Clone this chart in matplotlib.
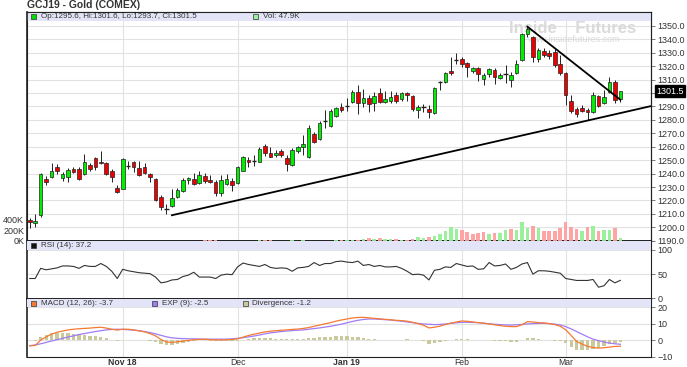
import matplotlib
matplotlib.use("Agg")
import matplotlib.pyplot as plt
from matplotlib.patches import Rectangle
from matplotlib.ticker import FuncFormatter
import numpy as np

plt.rcParams['font.family'] = ['Liberation Sans', 'DejaVu Sans']

# daily OHLC, GCJ19 (one entry per trading day)
opens = [1205.8, 1203.5, 1208.8, 1236.2, 1237.7, 1244.9, 1236.4, 1237.7, 1243.6, 1243.6,
         1239.4, 1246.4, 1251.8, 1248.9, 1248.1, 1241.9, 1229.4, 1228.7, 1245.6, 1248.6,
         1243.9, 1244.9, 1239.9, 1236.2, 1222.7, 1213.8, 1215.8, 1222.5, 1227.0, 1234.9,
         1235.9, 1232.9, 1238.3, 1235.4, 1234.1, 1225.9, 1232.4, 1234.6, 1232.9, 1242.3,
         1250.2, 1249.5, 1249.0, 1260.7, 1255.7, 1254.0, 1257.0, 1252.0, 1246.5, 1256.5,
         1259.7, 1252.7, 1269.6, 1265.9, 1279.3, 1275.6, 1283.0, 1289.5, 1290.2, 1293.1,
         1300.8, 1292.9, 1296.1, 1292.4, 1300.3, 1293.6, 1294.1, 1298.3, 1295.6, 1299.8,
         1297.8, 1287.4, 1289.9, 1288.2, 1284.9, 1308.5, 1308.0, 1316.5, 1324.7, 1325.2,
         1322.2, 1316.5, 1318.5, 1310.5, 1314.0, 1317.2, 1311.0, 1314.2, 1309.8, 1314.7,
         1324.7, 1344.0, 1341.6, 1325.2, 1331.6, 1329.6, 1330.9, 1321.7, 1314.7, 1294.1,
         1287.9, 1288.6, 1287.4, 1285.7, 1297.8, 1292.9, 1301.1, 1308.5, 1295.6]
highs = [1207.0, 1209.6, 1240.6, 1238.2, 1248.1, 1246.9, 1241.1, 1244.4, 1244.9, 1244.9,
         1254.3, 1248.1, 1252.5, 1256.8, 1248.9, 1243.1, 1231.2, 1251.3, 1249.4, 1249.4,
         1249.4, 1248.1, 1240.6, 1236.9, 1223.7, 1217.0, 1228.2, 1229.0, 1236.9, 1237.5,
         1240.3, 1241.6, 1240.8, 1239.1, 1235.4, 1239.1, 1240.0, 1236.6, 1245.8, 1253.2,
         1252.7, 1253.7, 1259.7, 1262.2, 1259.7, 1257.7, 1258.2, 1254.0, 1258.9, 1260.7,
         1268.9, 1276.3, 1271.3, 1279.5, 1287.5, 1288.0, 1289.7, 1292.4, 1296.0, 1302.3,
         1306.0, 1302.8, 1298.6, 1301.1, 1303.6, 1301.6, 1301.8, 1301.1, 1301.1, 1301.1,
         1298.6, 1291.4, 1291.9, 1291.1, 1304.8, 1309.3, 1316.0, 1327.1, 1330.1, 1327.1,
         1323.4, 1319.7, 1319.7, 1315.2, 1318.9, 1318.9, 1314.7, 1320.9, 1316.0, 1324.7,
         1345.0, 1349.5, 1342.6, 1333.4, 1333.4, 1331.9, 1332.6, 1328.4, 1315.9, 1298.6,
         1289.4, 1291.1, 1288.6, 1301.1, 1298.6, 1302.3, 1311.7, 1309.8, 1301.6]
lows = [1199.4, 1200.0, 1207.8, 1231.4, 1236.9, 1239.4, 1234.4, 1233.7, 1240.1, 1235.2,
        1239.0, 1241.9, 1242.6, 1246.9, 1238.9, 1233.7, 1225.2, 1228.2, 1243.6, 1241.1,
        1238.2, 1239.4, 1233.7, 1219.5, 1212.8, 1209.6, 1215.3, 1222.0, 1226.3, 1232.5,
        1231.6, 1232.4, 1232.9, 1232.9, 1223.0, 1223.0, 1231.6, 1227.4, 1232.4, 1241.6,
        1245.3, 1245.6, 1248.5, 1253.2, 1252.2, 1252.7, 1252.2, 1242.3, 1245.8, 1255.2,
        1254.0, 1251.5, 1262.7, 1265.2, 1273.8, 1275.1, 1282.5, 1286.2, 1287.0, 1292.4,
        1284.2, 1289.4, 1286.2, 1286.9, 1292.4, 1292.4, 1292.9, 1292.9, 1294.1, 1294.1,
        1286.9, 1281.2, 1285.7, 1281.2, 1284.2, 1302.3, 1307.3, 1313.5, 1321.7, 1319.7,
        1312.3, 1315.2, 1309.3, 1306.0, 1312.3, 1306.5, 1310.3, 1307.8, 1304.8, 1313.9,
        1324.2, 1342.0, 1323.4, 1323.4, 1326.9, 1325.7, 1319.7, 1313.5, 1291.1, 1285.4,
        1282.4, 1286.2, 1280.0, 1285.0, 1289.9, 1291.9, 1300.3, 1292.4, 1293.7]
closes = [1203.6, 1205.0, 1239.4, 1233.7, 1241.9, 1241.9, 1239.4, 1242.4, 1241.1, 1236.2,
          1248.9, 1243.1, 1244.9, 1248.1, 1239.4, 1237.7, 1226.5, 1250.6, 1245.6, 1245.1,
          1238.7, 1240.6, 1237.4, 1220.2, 1215.3, 1213.8, 1222.0, 1227.5, 1234.9, 1236.6,
          1232.4, 1239.1, 1234.6, 1234.1, 1225.4, 1235.4, 1235.9, 1231.6, 1245.3, 1252.2,
          1248.5, 1249.5, 1258.2, 1255.2, 1252.7, 1255.7, 1253.5, 1247.3, 1257.7, 1259.7,
          1262.2, 1273.8, 1263.9, 1277.5, 1279.3, 1287.0, 1288.7, 1287.5, 1290.2, 1300.8,
          1292.4, 1296.1, 1291.9, 1297.8, 1293.4, 1295.4, 1296.8, 1294.4, 1299.8, 1298.3,
          1288.4, 1289.4, 1289.9, 1285.7, 1303.6, 1308.5, 1314.7, 1314.7, 1324.7, 1321.7,
          1319.2, 1318.5, 1314.0, 1313.5, 1317.7, 1311.7, 1313.5, 1314.2, 1313.5, 1321.4,
          1344.0, 1347.5, 1326.7, 1332.1, 1328.4, 1327.6, 1320.9, 1315.2, 1298.6, 1286.9,
          1284.4, 1286.9, 1286.2, 1298.6, 1290.4, 1297.3, 1308.5, 1294.9, 1301.5]
volume_k = [3, 3, 4, 3, 2, 3, 2, 3, 2, 3, 2, 3, 2, 3, 2, 3, 4, 3, 2, 3,
            2, 3, 2, 4, 5, 4, 3, 3, 3, 2, 3, 4, 15, 14, 18, 5, 4, 4, 5, 6,
            4, 5, 15, 14, 12, 6, 6, 5, 14, 8, 12, 6, 6, 7, 8, 6, 12, 13, 13, 13,
            19, 31, 50, 38, 50, 38, 44, 38, 19, 19, 31, 69, 63, 82, 94, 132, 182, 270, 226, 208,
            164, 138, 145, 164, 138, 151, 151, 208, 226, 208, 352, 252, 283, 239, 189, 189, 195, 239, 352, 270,
            220, 189, 258, 283, 195, 208, 208, 239, 47.9]
rsi14 = [41, 41, 62, 59, 61, 63, 67, 67, 66, 62, 68, 66, 66, 72, 66, 56, 41, 60, 57, 55,
         53, 52, 51, 44, 32, 34, 38, 39, 45, 48, 54, 44, 44, 44, 41, 48, 50, 49, 65, 73,
         70, 68, 66, 70, 64, 62, 63, 62, 56, 63, 64, 66, 74, 68, 72, 72, 76, 77, 75, 74,
         77, 68, 70, 66, 68, 65, 65, 66, 62, 56, 49, 50, 48, 38, 58, 60, 65, 64, 72, 69,
         66, 67, 60, 61, 74, 67, 68, 71, 60, 64, 71, 74, 50, 57, 57, 56, 54, 52, 41, 39,
         37, 37, 37, 39, 23, 26, 39, 32, 37.2]
macd_line = [-3.4, -3.2, 0.0, 2.0, 3.6, 4.8, 5.5, 6.2, 6.6, 6.9, 7.1, 7.3, 7.6, 7.8, 7.3, 6.6, 6.1, 6.6, 6.6, 6.2,
             5.6, 5.0, 4.0, 2.6, 0.4, -1.1, -1.4, -1.0, -0.6, -0.1, 0.2, 0.5, 0.5, 0.3, 0.1, 0.1, 0.2, 0.4, 0.8, 1.8,
             2.8, 3.6, 4.3, 5.0, 5.4, 5.7, 6.0, 6.2, 6.5, 6.7, 7.1, 7.6, 8.4, 9.1, 9.9, 10.6, 11.5, 12.2, 12.8, 13.4,
             13.7, 13.8, 13.5, 13.2, 12.9, 12.6, 12.3, 12.0, 11.8, 11.5, 10.8, 10.0, 9.0, 7.4, 7.8, 8.5, 9.4, 10.3, 11.0, 11.6,
             11.4, 11.0, 10.6, 10.2, 9.8, 9.3, 8.8, 8.4, 8.2, 8.2, 9.3, 11.2, 11.0, 10.6, 10.4, 10.0, 9.4, 8.4, 6.3, 2.8,
             -0.8, -2.4, -3.7, -4.5, -4.8, -4.6, -4.2, -3.8, -3.7]
exp9_line = [-3.4, -2.9, -2.2, -1.4, -0.5, 0.3, 1.1, 1.9, 2.6, 3.4, 4.0, 4.6, 5.2, 5.7, 6.2, 6.5, 6.6, 6.5, 6.3, 6.1,
             5.7, 5.2, 4.6, 3.8, 2.9, 2.0, 1.4, 1.1, 0.9, 0.8, 0.8, 0.7, 0.6, 0.6, 0.6, 0.6, 0.6, 0.8, 1.1, 1.5,
             2.0, 2.5, 3.1, 3.8, 4.4, 4.8, 5.2, 5.5, 5.8, 6.0, 6.2, 6.6, 7.0, 7.4, 7.9, 8.4, 9.0, 9.7, 10.5, 11.3,
             12.0, 12.5, 12.8, 12.8, 12.6, 12.4, 12.2, 11.8, 11.5, 11.0, 10.6, 10.1, 9.8, 9.6, 9.4, 9.5, 9.8, 10.2, 10.5, 10.8,
             10.8, 10.7, 10.6, 10.3, 9.9, 9.6, 9.4, 9.2, 9.1, 9.3, 9.5, 9.8, 10.0, 10.1, 10.2, 10.0, 9.7, 9.2, 8.2, 6.8,
             5.2, 3.6, 2.0, 0.6, -0.3, -1.1, -1.8, -2.2, -2.5]
month_ticks = [17, 38, 58, 79, 98]
month_labels = ["Nov 18", "Dec", "Jan 19", "Feb", "Mar"]
# drawn trend lines: (start index, start price, end index, end price)
trend_lines = [(26, 1209.0, 113.7, 1290.4),
               (91, 1349.5, 108, 1295.0)]

W, H = 687, 367
fig = plt.figure(figsize=(W / 100, H / 100), dpi=100)


def px_axes(left, top, right, bottom):
    return fig.add_axes([left / W, 1 - bottom / H, (right - left) / W, (bottom - top) / H])


def fx(px):
    return px / W


def fy(py):
    return 1 - py / H


ax = px_axes(27, 12, 651, 241)
ax_vol = ax.twinx()
ax_rsi = px_axes(27, 241, 651, 299)
ax_macd = px_axes(27, 299, 651, 357)

band = '#e4e4f8'
grid_c = '#e2e2e2'
text_c = '#333333'
x = np.arange(len(closes))
xlim = (-0.5, 113.6)

# ---- price panel
for i in x:
    o, h, l, c = opens[i], highs[i], lows[i], closes[i]
    ax.vlines(i, l, h, color='#222222', lw=0.7, zorder=4)
    if o == c:
        ax.hlines(c, i - 0.4, i + 0.4, color='#222222', lw=1.0, zorder=5)
    else:
        ax.bar(i, abs(c - o), bottom=min(o, c), width=0.66,
               color='#00ee00' if c > o else '#ee0000',
               edgecolor='#222222', lw=0.5, zorder=5)

for x0, y0, x1, y1 in trend_lines:
    ax.plot([x0, x1], [y0, y1], color='black', lw=1.3, zorder=6)

ax.set_xlim(*xlim)
ax.set_ylim(1189.8, 1360.4)
ax.set_yticks(np.arange(1190, 1351, 10))
ax.yaxis.set_major_formatter(FuncFormatter(lambda v, p: '' if round(v) == 1300 else f'{v:.1f}'))
ax.set_xticks(month_ticks)
ax.tick_params(axis='x', length=0, labelbottom=False)
ax.grid(True, color=grid_c, lw=0.8, zorder=0)
ax.set_axisbelow(True)
ax.add_patch(Rectangle((0, 1 - 9 / 229), 1, 9 / 229, transform=ax.transAxes,
                       facecolor=band, edgecolor='none', zorder=3))

# watermark
ax.text(0.875, 0.930, 'Inside    Futures', transform=ax.transAxes, ha='center', va='center',
        fontsize=12, fontweight='bold', color='#dadada', zorder=1)
ax.text(0.875, 0.878, 'www.insidefutures.com', transform=ax.transAxes, ha='center', va='center',
        fontsize=6.5, color='#dadada', zorder=1)

# last price marker
ax.annotate(f'{closes[-1]:.1f}', xy=(1.0, closes[-1]), xycoords=('axes fraction', 'data'),
            xytext=(4, 0), textcoords='offset points', ha='left', va='center',
            fontsize=6.5, color='white', zorder=10, annotation_clip=False,
            bbox=dict(boxstyle='square,pad=0.15', facecolor='black', edgecolor='black'))

# volume on the same panel, left scale
vol_up = [closes[i] >= (closes[i - 1] if i else opens[i]) for i in x]
ax_vol.bar(x, volume_k, width=0.66,
           color=['#9cf09c' if u else '#ffa4a4' for u in vol_up], zorder=2)
ax_vol.set_ylim(0, 229 / 10.6 * 200)
ax_vol.set_xlim(*xlim)
ax_vol.set_yticks([0, 200, 400])
ax_vol.set_yticklabels(['0K', '200K', '400K'])

# twinx flips sides, so set them after creating it
ax.yaxis.tick_right()
ax.yaxis.set_label_position('right')
ax_vol.yaxis.tick_left()
ax.tick_params(axis='y', length=3, width=0.6, color='#666666', labelsize=6.5,
               labelcolor=text_c, pad=1.5)
ax_vol.tick_params(axis='y', length=0, labelsize=6.5, labelcolor=text_c, pad=2)

# ---- RSI panel
ax_rsi.plot(x, rsi14, color='#333333', lw=0.8, zorder=4)
ax_rsi.set_xlim(*xlim)
ax_rsi.set_ylim(-1.4, 118.6)
ax_rsi.yaxis.tick_right()
ax_rsi.set_yticks([0, 50, 100])
ax_rsi.set_xticks(month_ticks)
ax_rsi.tick_params(axis='x', length=0, labelbottom=False)
ax_rsi.tick_params(axis='y', length=3, width=0.6, color='#666666', labelsize=6.5,
                   labelcolor=text_c, pad=1.5)
ax_rsi.grid(True, color=grid_c, lw=0.8, zorder=0)
ax_rsi.add_patch(Rectangle((0, 1 - 8.5 / 58), 1, 8.5 / 58, transform=ax_rsi.transAxes,
                           facecolor=band, edgecolor='none', zorder=3))

# ---- MACD panel
divergence = [m - e for m, e in zip(macd_line, exp9_line)]
ax_macd.bar(x, divergence, width=0.6, color='#c9c99b', zorder=2)
ax_macd.plot(x, exp9_line, color='#a07cf4', lw=0.9, zorder=4)
ax_macd.plot(x, macd_line, color='#f47a32', lw=0.9, zorder=5)
ax_macd.set_xlim(*xlim)
ax_macd.set_ylim(-10.2, 24.9)
ax_macd.yaxis.tick_right()
ax_macd.set_yticks([-10, 0, 10, 20])
ax_macd.set_xticks(month_ticks)
ax_macd.set_xticklabels(month_labels)
for lbl in ax_macd.get_xticklabels():
    if lbl.get_text().endswith(('18', '19')):
        lbl.set_fontweight('bold')
ax_macd.tick_params(axis='x', length=0, labelsize=6.2, labelcolor=text_c, pad=1)
ax_macd.tick_params(axis='y', length=3, width=0.6, color='#666666', labelsize=6.5,
                    labelcolor=text_c, pad=1.5)
ax_macd.grid(True, color=grid_c, lw=0.8, zorder=0)
ax_macd.add_patch(Rectangle((0, 1 - 8.3 / 58), 1, 8.3 / 58, transform=ax_macd.transAxes,
                            facecolor=band, edgecolor='none', zorder=3))

for a in (ax, ax_rsi, ax_macd, ax_vol):
    for s in a.spines.values():
        s.set_color('#222222')
        s.set_linewidth(0.8)
ax.spines['bottom'].set_linewidth(1.4)
ax_rsi.spines['bottom'].set_linewidth(1.4)
for a in (ax_vol, ax_rsi, ax_macd):
    a.spines['left'].set_linewidth(1.2)


# ---- header texts and legend swatches
def swatch(px, py, color):
    fig.add_artist(Rectangle((fx(px), fy(py + 5)), 5 / W, 5 / H, transform=fig.transFigure,
                             facecolor=color, edgecolor='#333333', lw=0.5))


def label(px, py, s, **kw):
    fig.text(fx(px), fy(py), s, ha='left', va='center', color=text_c, **kw)


label(27, 5, 'GCJ19 - Gold (COMEX)', fontsize=7.5, fontweight='bold')
swatch(31, 14, '#00dd00')
label(41, 16.5, f'Op:{opens[-1]:.1f}, Hi:{highs[-1]:.1f}, Lo:{lows[-1]:.1f}, Cl:{closes[-1]:.1f}',
      fontsize=5.8)
swatch(253, 14, '#9cf09c')
label(263, 16.5, f'Vol: {volume_k[-1]:.1f}K', fontsize=5.8)
swatch(31, 243, '#111111')
label(41, 245.5, f'RSI (14): {rsi14[-1]:.1f}', fontsize=5.8)
swatch(31, 301, '#f47a32')
label(41, 303.5, f'MACD (12, 26): {macd_line[-1]:.1f}', fontsize=5.8)
swatch(152, 301, '#a07cf4')
label(162, 303.5, f'EXP (9): {exp9_line[-1]:.1f}', fontsize=5.8)
swatch(243, 301, '#c9c99b')
label(252, 303.5, f'Divergence: {divergence[-1]:.1f}', fontsize=5.8)

fig.savefig('out.png', dpi=100)
